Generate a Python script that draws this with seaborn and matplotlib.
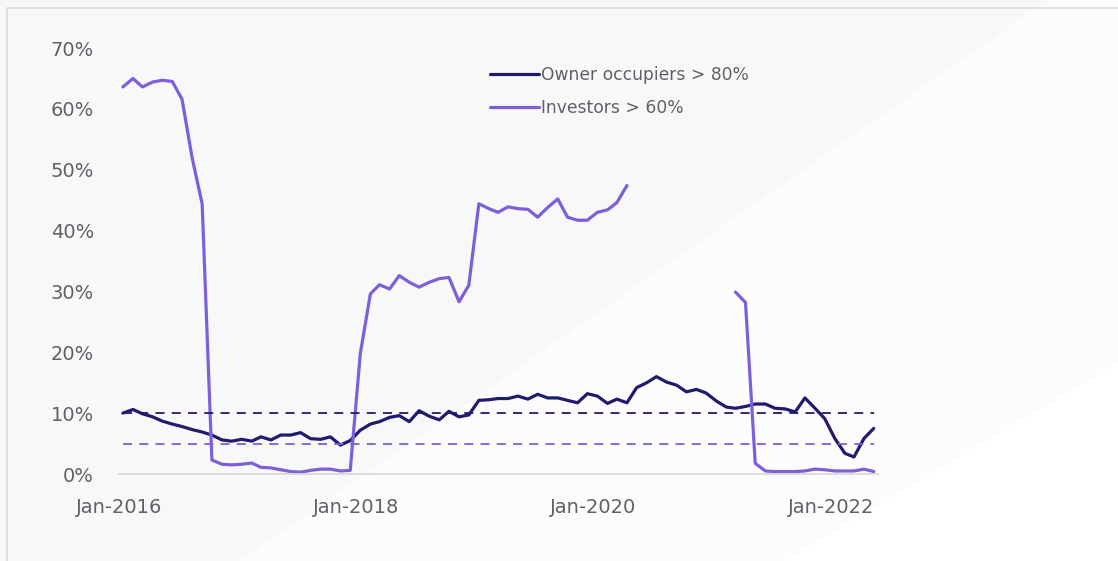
import numpy as np
import pandas as pd
import matplotlib
matplotlib.use("Agg")
import matplotlib.pyplot as plt
import matplotlib.dates as mdates
from matplotlib.patches import Polygon
from matplotlib.lines import Line2D
from matplotlib.ticker import FuncFormatter
import seaborn as sns

# Share of new lending at high loan-to-value ratios, monthly Jan-2016 .. May-2022
months = pd.date_range("2016-01-01", periods=77, freq="MS") + pd.Timedelta(days=12)

owner_occupiers = [
    10.0, 10.6, 9.9, 9.4, 8.7, 8.2, 7.8, 7.3, 6.9, 6.4, 5.6, 5.4,
    5.7, 5.4, 6.1, 5.6, 6.4, 6.4, 6.8, 5.8, 5.7, 6.1, 4.75, 5.5,
    7.2, 8.2, 8.6, 9.3, 9.6, 8.6, 10.4, 9.5, 8.9, 10.3, 9.4, 9.7,
    12.1, 12.2, 12.4, 12.4, 12.8, 12.3, 13.1, 12.5, 12.5, 12.1, 11.7, 13.2,
    12.8, 11.6, 12.3, 11.7, 14.2, 15.0, 16.0, 15.1, 14.6, 13.5, 13.9, 13.3,
    12.0, 11.0, 10.8, 11.1, 11.5, 11.5, 10.8, 10.7, 10.2, 12.5, 10.8, 9.1,
    5.85, 3.4, 2.8, 5.85, 7.5,
]

investors = [
    63.6, 65.0, 63.6, 64.4, 64.7, 64.5, 61.6, 52.0, 44.4, 2.3, 1.6, 1.5,
    1.6, 1.8, 1.1, 1.0, 0.7, 0.4, 0.3, 0.6, 0.8, 0.8, 0.5, 0.6,
    19.8, 29.6, 31.1, 30.4, 32.6, 31.5, 30.7, 31.5, 32.1, 32.3, 28.3, 31.0,
    44.4, 43.6, 43.0, 43.9, 43.6, 43.5, 42.2, 43.8, 45.2, 42.2, 41.7, 41.7,
    43.0, 43.4, 44.6, 47.4, np.nan, np.nan, np.nan, np.nan, np.nan, np.nan, np.nan, np.nan,
    np.nan, np.nan, 29.9, 28.2, 1.75, 0.5, 0.4, 0.4, 0.4, 0.5, 0.8, 0.7,
    0.5, 0.5, 0.5, 0.8, 0.4,
]

owner_threshold = 10.0
investor_threshold = 5.0

series_names = ["Owner occupiers > 80%", "Investors > 60%"]
y_ticks = [0, 10, 20, 30, 40, 50, 60, 70]
x_ticks = ["2016-01-01", "2018-01-01", "2020-01-01", "2022-01-01"]

NAVY = "#201b6c"
PURPLE = "#7d5fdc"
GREY_TXT = "#606068"

# Long-form table; a segment id keeps the investor series broken across its gap
rows = []
for name, values in zip(series_names, [owner_occupiers, investors]):
    seg = 0
    prev_nan = False
    for d, v in zip(months, values):
        if np.isnan(v):
            prev_nan = True
            continue
        if prev_nan:
            seg += 1
            prev_nan = False
        rows.append({"date": d, "share": v, "series": name, "segment": f"{name}-{seg}"})
df = pd.DataFrame(rows)

sns.set_theme(style="white")
plt.rcParams["font.family"] = ["DejaVu Sans"]

W, H = 1118, 561
fig = plt.figure(figsize=(W / 100, H / 100), dpi=100)
fig.patch.set_facecolor("#f8f8f9")


def fp(x, y):
    """Pixel position (from top-left) to figure fraction."""
    return [x / W, 1 - y / H]


# soft slide backdrop: pale diagonal bands and a thin frame, all behind the axes
fig.patches.append(Polygon([fp(1048, 0), fp(1118, 0), fp(1118, 561), fp(240, 561)], closed=True,
                           transform=fig.transFigure, facecolor="#fcfcfd", edgecolor="none", zorder=-5))
fig.patches.append(Polygon([fp(784, 561), fp(1118, 363), fp(1118, 561)], closed=True,
                           transform=fig.transFigure, facecolor="#ffffff", edgecolor="none", zorder=-5))
fig.lines.append(Line2D([7 / W, 7 / W, 1.0], [0.0, 1 - 8 / H, 1 - 8 / H], transform=fig.transFigure,
                        color="#dcdce1", linewidth=1.2, zorder=-4))

ax = fig.add_axes([119 / W, 1 - 474 / H, (878 - 119) / W, (474 - 48) / H])
ax.set_zorder(2)
ax.set_facecolor("none")

sns.lineplot(data=df, x="date", y="share", hue="series", units="segment", estimator=None,
             palette={series_names[0]: NAVY, series_names[1]: PURPLE}, hue_order=series_names,
             linewidth=2.3, ax=ax, legend=False, sort=True)

# benchmark thresholds
ax.plot(months, [owner_threshold] * len(months), color=NAVY, linestyle=(0, (5, 4)), linewidth=1.3)
ax.plot(months, [investor_threshold] * len(months), color=PURPLE, linestyle=(0, (5, 4)), linewidth=1.3)

ax.set_xlim(pd.Timestamp("2016-01-01"), pd.Timestamp("2022-05-26"))
ax.set_ylim(0, 70)
ax.set_yticks(y_ticks)
ax.yaxis.set_major_formatter(FuncFormatter(lambda v, p: f"{v:.0f}%"))
ax.set_xticks([pd.Timestamp(t) for t in x_ticks])
ax.xaxis.set_major_formatter(mdates.DateFormatter("%b-%Y"))
ax.set_xlabel("")
ax.set_ylabel("")

for side in ["top", "right", "left"]:
    ax.spines[side].set_visible(False)
ax.spines["bottom"].set_color("#d6d6da")
ax.spines["bottom"].set_linewidth(1.2)
ax.tick_params(axis="x", which="major", length=6, width=1.0, color="#d6d6da",
               labelsize=14, labelcolor=GREY_TXT, pad=11)
ax.tick_params(axis="y", length=0, labelsize=14, labelcolor=GREY_TXT, pad=18)
ax.grid(False)

handles = [Line2D([], [], color=NAVY, linewidth=2.3),
           Line2D([], [], color=PURPLE, linewidth=2.3)]
leg = ax.legend(handles, series_names, loc="upper left", bbox_to_anchor=(0.468, 0.993),
                frameon=False, handlelength=2.9, handletextpad=0.1, labelspacing=0.85,
                prop={"size": 12.3})
for t in leg.get_texts():
    t.set_color(GREY_TXT)

fig.savefig("out.png", dpi=100, facecolor=fig.get_facecolor())
